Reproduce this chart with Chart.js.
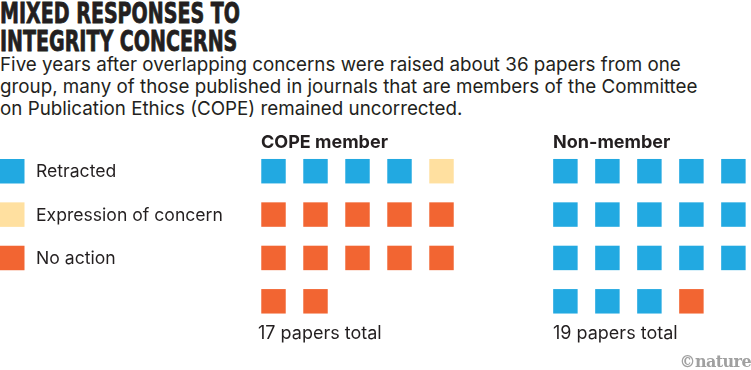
<!DOCTYPE html>
<html>
<head>
<meta charset="utf-8">
<script src="https://cdn.jsdelivr.net/npm/chart.js@4"></script>
<style>
  body { margin: 0; background: #fff; width: 751px; height: 370px; overflow: hidden; position: relative; color: #231f20; }
  #title { position: absolute; left: 0; top: 0px; font: 700 29px "Liberation Sans Narrow", "DejaVu Sans Condensed", sans-serif; line-height: 27.5px; transform-origin: 0 0; -webkit-text-stroke: 0.8px #231f20; white-space: nowrap; }
  #sub { position: absolute; left: 0; top: 54px; font: 400 18.8px Inter, sans-serif; line-height: 22px; width: 760px; white-space: nowrap; }
  .lbl { position: absolute; font: 400 18px Inter, sans-serif; white-space: nowrap; }
  .grp { position: absolute; font: 700 18px Inter, sans-serif; white-space: nowrap; }
  #logo { position: absolute; right: 0px; top: 352px; font: 700 16px "DejaVu Serif", serif; color: #a0a0a0; letter-spacing: -0.6px; }
  #wrap { position: absolute; left: 0; top: 130px; width: 751px; height: 240px; }
</style>
</head>
<body>
<div id="title"><span id="t1">MIXED RESPONSES TO</span><br>INTEGRITY CONCERNS</div>
<div id="sub">Five years after overlapping concerns were raised about 36 papers from one<br>group, many of those published in journals that are members of the Committee<br>on Publication Ethics (COPE) remained uncorrected.</div>
<div id="wrap"><canvas id="myChart"></canvas></div>
<div class="grp" style="left:261px; top:131px;">COPE member</div>
<div class="grp" style="left:553px; top:131px;">Non-member</div>
<div class="lbl" id="tot0" style="left:258px; top:322px;"></div>
<div class="lbl" id="tot1" style="left:553px; top:322px;"></div>
<div id="logo">©nature</div>
<script>
// squeeze the headline to the reference width
var t1 = document.getElementById('t1');
document.getElementById('title').style.transform = 'scaleX(' + (240 / t1.getBoundingClientRect().width) + ')';

// waffle data
var categories = ['Retracted', 'Expression of concern', 'No action'];
var colors = ['#22a9e1', '#ffe0a0', '#f26532'];
var groups = ['COPE member', 'Non-member'];
var copeCounts = [4, 1, 12];
var nonMemberCounts = [18, 0, 1];

var perRow = 5;
var groupOffset = [0, 6.95];

// build squares, filling each group row by row
var counts = [copeCounts, nonMemberCounts];
var datasets = categories.map(function (c, i) {
  return { label: c, data: [], backgroundColor: colors[i], borderWidth: 0, pointStyle: 'rect', pointRadius: 17.3, pointHoverRadius: 17.3 };
});
counts.forEach(function (arr, g) {
  var k = 0;
  arr.forEach(function (n, i) {
    for (var j = 0; j < n; j++) {
      datasets[i].data.push({ x: (k % perRow) + groupOffset[g], y: Math.floor(k / perRow) });
      k++;
    }
  });
  var total = arr.reduce(function (a, b) { return a + b; }, 0);
  document.getElementById('tot' + g).textContent = total + ' papers total';
});

// legend drawn at the first rows, next to the waffles
var sideLegend = {
  id: 'sideLegend',
  afterDraw: function (chart) {
    var ctx = chart.ctx;
    var y = chart.scales.y;
    ctx.save();
    chart.data.datasets.forEach(function (ds, i) {
      var py = y.getPixelForValue(i);
      ctx.fillStyle = ds.backgroundColor;
      ctx.fillRect(0, py - 12.2, 24.5, 24.5);
      ctx.fillStyle = '#231f20';
      ctx.font = '400 17.6px Inter, sans-serif';
      ctx.textBaseline = 'middle';
      ctx.fillText(ds.label, 36, py + 1);
    });
    ctx.restore();
  }
};

var ctx = document.getElementById('myChart');
new Chart(ctx, {
  type: 'scatter',
  data: { datasets: datasets },
  options: {
    responsive: true,
    maintainAspectRatio: false,
    animation: false,
    layout: { padding: 0, autoPadding: false },
    scales: {
      x: { display: false, min: -6.512, max: 11.369 },
      y: { display: false, reverse: true, min: -0.95, max: 4.584 }
    },
    plugins: {
      legend: { display: false },
      tooltip: { enabled: false }
    }
  },
  plugins: [sideLegend]
});
</script>
</body>
</html>
